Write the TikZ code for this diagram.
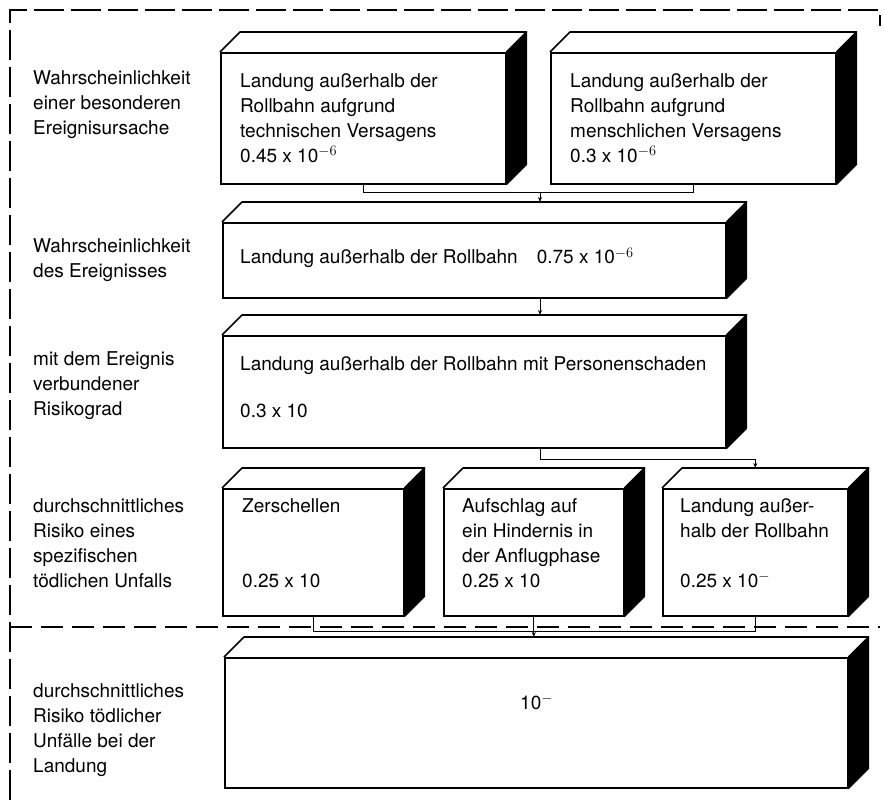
\documentclass[tikz,border=0pt]{standalone}
\usepackage{fontspec}
\setmainfont{TeX Gyre Heros}
\usetikzlibrary{arrows.meta}
\tikzset{
    kiste/.style={draw, line width=1.6pt, fill=white, anchor=north west, inner sep=0pt},
    deckel/.style={draw, line width=1.6pt, line join=round},
    seite/.style={fill=black, draw=black, line width=1pt, line join=round},
    verb/.style={line width=1pt},
    pfeil/.style={line width=1pt, -{Stealth[length=5pt,width=4pt]}},
    rahmen/.style={line width=1.1pt, dash pattern=on 30pt off 7pt},
    trenn/.style={line width=1.1pt, dash pattern=on 22pt off 9pt},
    schrift/.style={anchor=north west, inner sep=0pt, align=left, font={\fontsize{19}{25}\selectfont}},
}
\newcommand{\kiste}[5]{%
    \node[kiste, minimum width={#4-#2}, minimum height={#5-#3}] (#1) at (#2,#3) {};
    \coordinate (#1-top) at ([shift={(20,-20)}]#1.north west);
    \draw[deckel] (#1.north west) -- (#1-top) -- ([shift={(20,-20)}]#1.north east) -- (#1.north east);
    \filldraw[seite] (#1.north east) -- ([shift={(20,-20)}]#1.north east)
        -- ([shift={(20,-20)}]#1.south east) -- (#1.south east) -- cycle;
}
\begin{document}
\begin{tikzpicture}[x=1pt, y=-1pt]
    \useasboundingbox (0,0) rectangle (884,802);
    \draw[rahmen] (10,800) -- (10,10) -- (880,10) -- (880,26);
    \draw[trenn] (10,627) -- (880,627);

    \kiste{a}{220}{52}{505}{183}
    \kiste{b}{550}{52}{835}{183}
    \kiste{c}{222}{222}{725}{297}
    \kiste{d}{222}{335}{725}{447}
    \kiste{f}{222}{488}{403}{615}
    \kiste{g}{443}{488}{623}{615}
    \kiste{h}{662}{488}{847}{615}
    \kiste{e}{224}{657}{847}{787}

    \coordinate (mitte) at (540,193);
    \draw[verb] (a.south) -- (a.south |- mitte) -| (b.south);
    \draw[pfeil] (mitte) -- (mitte |- c-top);
    \draw[pfeil] (mitte |- c.south) -- (mitte |- d-top);
    \draw[pfeil] (mitte |- d.south) -- ++(0,11) -| (h.north |- h-top);
    \foreach \n in {f,g,h} {
        \draw[verb] (\n.south) -- ++(0,15);
    }
    \draw[verb] ([yshift=-15pt]f.south) -- ([yshift=-15pt]h.south);
    \draw[pfeil] ([yshift=-15pt]g.south) -- (g.south |- e-top);

    \node[schrift] (l1) at (33,70) {Wahrscheinlichkeit\\einer besonderen\\Ereignisursache};
    \node[schrift] (l2) at (33,238) {Wahrscheinlichkeit\\des Ereignisses};
    \node[schrift] (l3) at (33,351) {mit dem Ereignis\\verbundener\\Risikograd};
    \node[schrift] (l4) at (33,498) {durchschnittliches\\Risiko eines\\spezifischen\\tödlichen Unfalls};
    \node[schrift] (l5) at (33,683) {durchschnittliches\\Risiko tödlicher\\Unfälle bei der\\Landung};

    \node[schrift] (ta) at (240,73) {Landung außerhalb der\\Rollbahn aufgrund\\technischen Versagens\\0.45 x 10$^{-6}$};
    \node[schrift] (tb) at (570,73) {Landung außerhalb der\\Rollbahn aufgrund\\menschlichen Versagens\\0.3 x 10$^{-6}$};
    \node[schrift] (tc) at (240,248) {Landung außerhalb der Rollbahn\hspace{1em}0.75 x 10$^{-6}$};
    \node[schrift] (td) at (240,356) {Landung außerhalb der Rollbahn mit Personenschaden\\[22pt]0.3 x 10};
    \node[schrift] (tf) at (242,498) {Zerschellen\\[50pt]0.25 x 10};
    \node[schrift] (tg) at (462,498) {Aufschlag auf\\ein Hindernis in\\der Anflugphase\\0.25 x 10};
    \node[schrift] (th) at (680,498) {Landung außer-\\halb der Rollbahn\\[25pt]0.25 x 10$^{-}$};
    \node[schrift, anchor=west] (te) at (520,702) {10$^{-}$};
\end{tikzpicture}
\end{document}
